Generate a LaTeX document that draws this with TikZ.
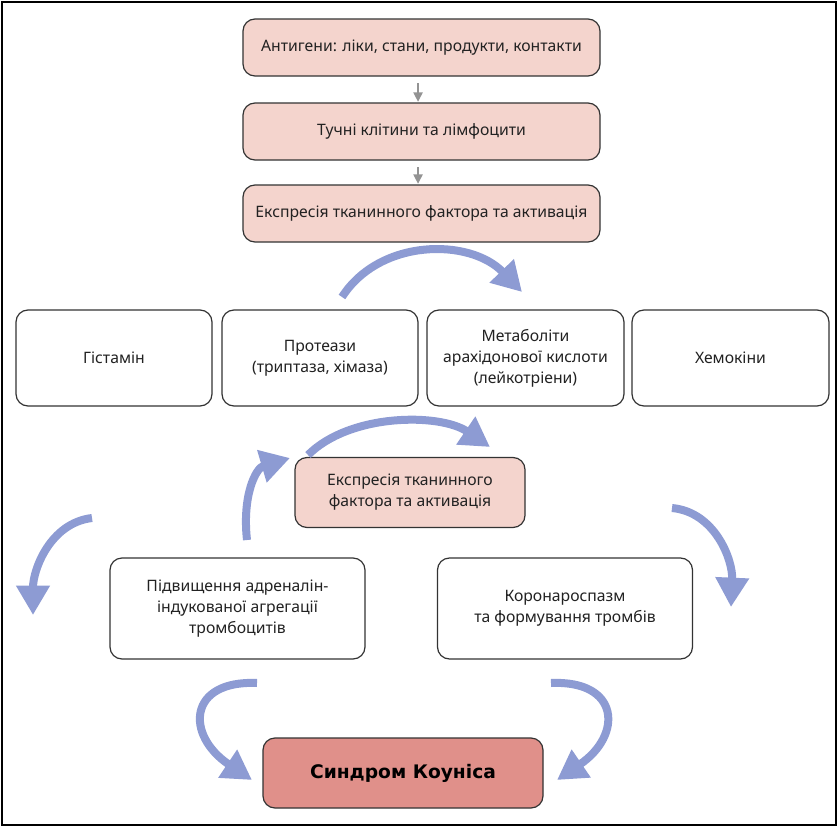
\documentclass[tikz,border=0pt]{standalone}
\usepackage{fontspec}
\setmainfont{Noto Sans}
\newfontfamily\titlefont{DejaVu Sans}
\usetikzlibrary{arrows.meta}
\definecolor{pinkfill}{HTML}{F4D4CD}
\definecolor{redfill}{HTML}{E0908A}
\definecolor{bluearr}{HTML}{8D9BD3}
\definecolor{boxline}{HTML}{333333}
\definecolor{txt}{HTML}{222222}
\tikzset{
  basebox/.style={draw=boxline, line width=0.9pt, rounded corners=9pt, align=center, text=txt, font=\fontsize{11.8}{15.8}\selectfont, inner sep=2pt},
  pinkbox/.style={basebox, fill=pinkfill},
  whitebox/.style={basebox, fill=white},
  redbox/.style={basebox, fill=redfill, text=black, font=\titlefont\bfseries\fontsize{14}{16}\selectfont},
  grayarr/.style={draw=gray!85, line width=0.9pt, -{Triangle[length=7pt,width=7pt]}, shorten <=5pt, shorten >=0.5pt},
  bluearrow/.style={draw=bluearr, line width=6pt, -{Triangle[length=22pt,width=24pt]}},
}
\begin{document}
\begin{tikzpicture}[x=0.75pt,y=-0.75pt]
\useasboundingbox (0,0) rectangle (840,828);
\draw[line width=1.5pt] (2,2) rectangle (836,825);

\node[pinkbox, minimum width=267.75pt, minimum height=42.75pt] (ant) at (421.5,47.5) {Антигени: ліки, стани, продукти, контакти};
\node[pinkbox, minimum width=267.75pt, minimum height=42.75pt] (mast) at (421.5,131.5) {Тучні клітини та лімфоцити};
\node[pinkbox, minimum width=267.75pt, minimum height=42.75pt] (expr) at (421.5,213.5) {Експресія тканинного фактора та активація};

\draw[grayarr] ([xshift=-2.6pt]ant.south) -- ([xshift=-2.6pt]mast.north);
\draw[grayarr] ([xshift=-2.6pt]mast.south) -- ([xshift=-2.6pt]expr.north);

\node[whitebox, minimum width=147pt, minimum height=72pt] (hist) at (114,358) {Гістамін};
\node[whitebox, minimum width=147pt, minimum height=72pt] (prot) at (320,358) {Протеази\\(триптаза, хімаза)};
\node[whitebox, minimum width=147.75pt, minimum height=72pt] (meta) at (525.5,358) {Метаболіти\\арахідонової кислоти\\(лейкотріени)};
\node[whitebox, minimum width=147.75pt, minimum height=72pt] (chem) at (730.5,358) {Хемокіни};

\node[pinkbox, minimum width=172.5pt, minimum height=52.5pt] (expr2) at (410,492.5) {Експресія тканинного\\фактора та активація};

\node[whitebox, minimum width=191.25pt, minimum height=75.75pt] (plat) at (237.5,608.5) {Підвищення адреналін-\\індукованої агрегації\\тромбоцитів};
\node[whitebox, minimum width=191.25pt, minimum height=75.75pt] (coro) at (565,608.5) {Коронароспазм\\та формування тромбів};

\node[redbox, minimum width=210pt, minimum height=52.5pt] (kounis) at (403,773) {Синдром Коуніса};

% free ends of the curved arrows
\coordinate (a1s) at (342,297); \coordinate (a1e) at (522,292);
\coordinate (a2s) at (308,455); \coordinate (a2e) at (490,447);
\coordinate (a3s) at (247,540); \coordinate (a3e) at (290,458);
\coordinate (a4s) at (92,518);  \coordinate (a4e) at (33,615);
\coordinate (a5s) at (672,508); \coordinate (a5e) at (731,607);
\coordinate (a6s) at (257,683); \coordinate (a6e) at (252,780);
\coordinate (a7s) at (551,683); \coordinate (a7e) at (557,780);

\draw[bluearrow] (a1s) .. controls (380,238) and (470,238) .. (a1e);
\draw[bluearrow] (a2s) .. controls (350,413) and (440,413) .. (a2e);
\draw[bluearrow] (a3s) .. controls (242,495) and (256,468) .. (a3e);
\draw[bluearrow] (a4s) .. controls (50,523) and (33,570) .. (a4e);
\draw[bluearrow] (a5s) .. controls (715,512) and (733,560) .. (a5e);
\draw[bluearrow] (a6s) .. controls (188,680) and (185,735) .. (a6e);
\draw[bluearrow] (a7s) .. controls (620,680) and (623,735) .. (a7e);
\end{tikzpicture}
\end{document}
